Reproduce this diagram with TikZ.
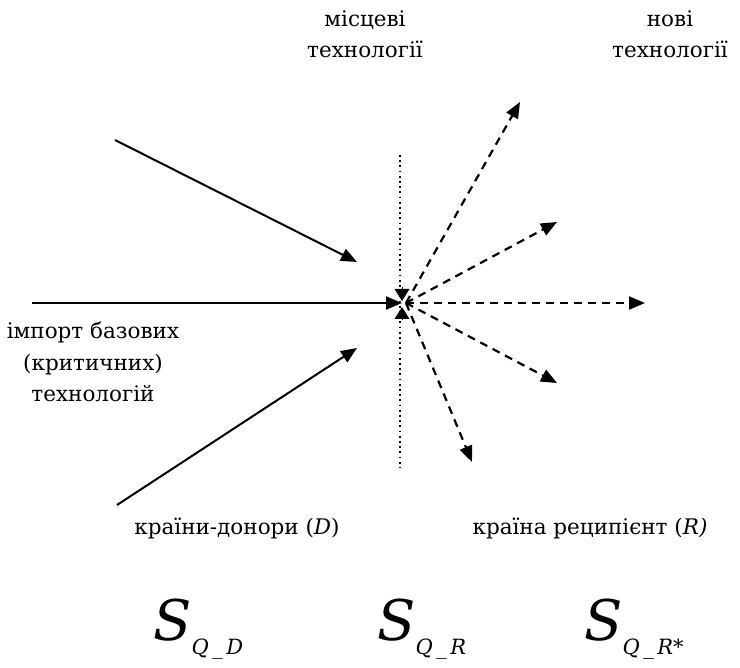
\documentclass[tikz,border=0pt]{standalone}
\usepackage{fontspec}
\setmainfont{DejaVu Serif}
\usepackage{tikz}
\usetikzlibrary{arrows.meta, positioning, calc}
\newcommand{\txtsize}{\fontsize{21.5}{31.5}\selectfont}
\newcommand{\symS}[1]{{\fontsize{56}{56}\selectfont\itshape S}%
  \raisebox{-14pt}{\fontsize{21}{21}\selectfont\itshape #1}}

\begin{document}
\begin{tikzpicture}[x=1pt, y=-1pt,
  lbl/.style={font=\txtsize, align=center, inner sep=0pt},
  imp/.style={-{Triangle[length=16pt, width=13pt]}, line width=2pt},
  nov/.style={-{Triangle[length=16pt, width=13pt]}, line width=2.2pt,
    dash pattern=on 8pt off 6pt},
  tip/.style={-{Triangle[length=12pt, width=15pt]}, line width=0pt}]
  \useasboundingbox (0,0) rectangle (740,668);
  % centre of the scheme
  \coordinate (c) at (402,303);
  \draw[line width=1.8pt, dash pattern=on 1.8pt off 3.4pt] (400,155) -- (400,468);
  % imported technologies
  \coordinate (d1) at (115,140);
  \coordinate (d2) at (32,303);
  \coordinate (d3) at (117,505);
  \coordinate (e1) at (357,262);
  \coordinate (e3) at (357,348);
  \draw[imp] (d1) -- (e1);
  \draw[imp] (d2) -- (c);
  \draw[imp] (d3) -- (e3);
  \draw[tip] ($(c)+(0,-15)$) -- ($(c)+(0,-2)$);
  \draw[tip] ($(c)+(0,17)$) -- ($(c)+(0,4)$);
  % new technologies
  \foreach \i/\p in {1/{520,102}, 2/{557,222}, 3/{645,303}, 4/{557,383}, 5/{472,462}}
    \coordinate (r\i) at (\p);
  \foreach \i in {1,...,5}
    \draw[nov] ($(c)+(4,0)$) -- (r\i);
  % labels
  \node[lbl] (loc) at (365,34) {місцеві\\технології};
  \node[lbl] (new) at (670,34) {нові\\технології};
  \node[lbl] (imptxt) at (93,362) {імпорт базових\\(критичних)\\технологій};
  \node[lbl, anchor=base] (donor) at (237,535) {країни-донори (\textit{D})};
  \node[lbl, anchor=base] (recip) at (590,535) {країна реципієнт (\textit{R)}};
  \node[inner sep=0pt, anchor=base west] (sd) at (153,641) {\symS{Q\,\_\,D}};
  \node[inner sep=0pt, anchor=base west] (sr) at (377,641) {\symS{Q\,\_\,R}};
  \node[inner sep=0pt, anchor=base west] (srs) at (584,641) {\symS{Q\,\_\,R*}};
\end{tikzpicture}
\end{document}
